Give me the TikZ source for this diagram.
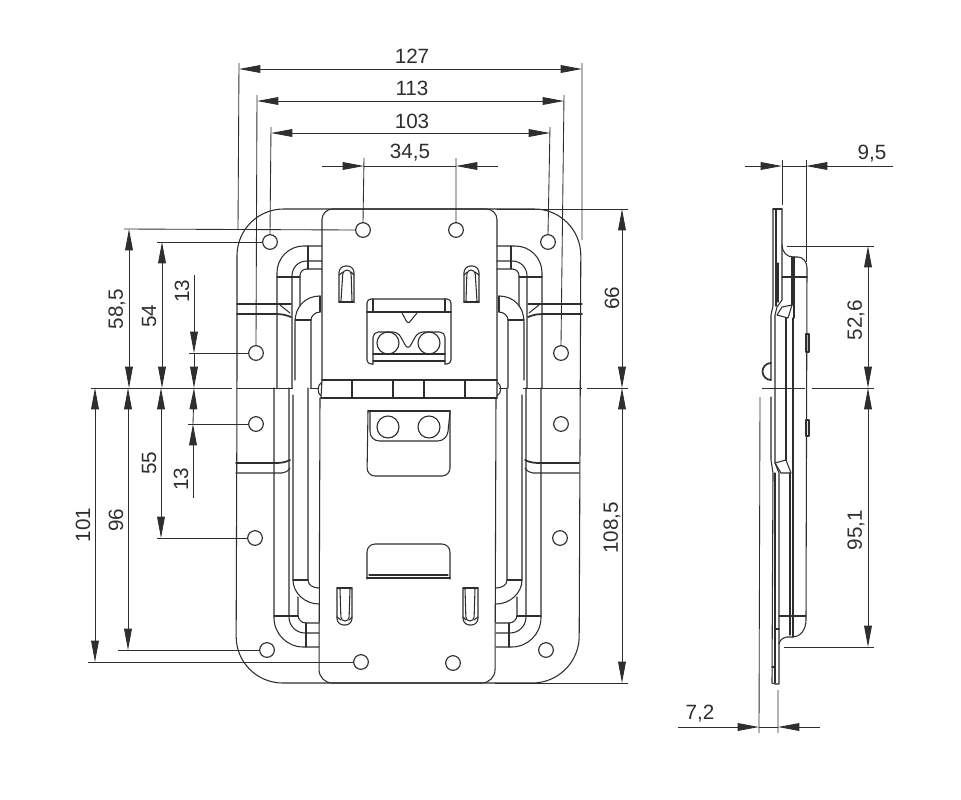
\documentclass[tikz,border=0pt]{standalone}
\usepackage{fontspec}
\setmainfont{Liberation Sans}
\usetikzlibrary{arrows.meta}
\definecolor{ink}{HTML}{2E2E2E}
\tikzset{
  part/.style={draw=ink,line width=.8pt,line cap=round,line join=round},
  heavy/.style={draw=ink,line width=1.3pt,line cap=round,line join=round},
  ext/.style={draw=ink,line width=.65pt},
  dimboth/.style={ext,{Triangle[length=16pt,width=5.8pt]}-{Triangle[length=16pt,width=5.8pt]}},
  dimin/.style={ext,-{Triangle[length=16pt,width=5.8pt]}},
  hole/.style={circle,draw=ink,line width=.85pt,minimum size=11pt,inner sep=0pt},
  pin/.style={circle,draw=ink,line width=.85pt,minimum size=16.5pt,inner sep=0pt},
  lbl/.style={text=ink,font=\fontsize{15.5}{17}\selectfont,inner sep=0pt},
  vlbl/.style={lbl,rotate=90}
}
% left half of the upper part; mirrored for the right side
\newcommand{\upperside}{%
  \draw[part,rounded corners=20pt] (322,246)--(277,246)--(277,388);
  \draw[part,rounded corners=11pt] (322,261)--(292,261)--(292,388);
  \draw[part,rounded corners=5pt] (322,269)--(300,269)--(300,306);
  \draw[part] (277,277)--(300,277);
  \draw[part] (308,246)--(308,269);
  \draw[part] (320,296) .. controls (305,296) and (295,307) .. (295,322)--(295,380);
  \draw[part] (320,312) .. controls (315,312) and (311,316) .. (311,320)--(311,388);
  \draw[part] (295,320)--(311,320);
  \draw[part] (320,296)--(320,312);
  \draw[part] (237,304)--(291,304);
  \draw[heavy] (237,314)--(276,314) .. controls (282,314) and (286,315) .. (291,317);
  \draw[part] (280,305)--(290,313);
}
% left half of the lower part; mirrored for the right side
\newcommand{\lowerside}{%
  \draw[part,rounded corners=22pt] (274,388)--(274,647)--(319,647);
  \draw[part,rounded corners=12pt] (289,388)--(289,633)--(319,633);
  \draw[part,rounded corners=6pt] (298,597)--(298,623)--(319,623);
  \draw[part] (274,616)--(298,616);
  \draw[part] (306,623)--(306,647);
  \draw[part] (293,395)--(293,580) .. controls (293,593) and (305,604) .. (319,604);
  \draw[part] (308,388)--(308,580) .. controls (308,585) and (313,588) .. (319,588);
  \draw[part] (293,580)--(308,580);
  \draw[heavy] (236,463)--(276,463) .. controls (282,463) and (286,462) .. (290,460);
  \draw[part] (236,473)--(282,473) .. controls (285,473) and (288,471) .. (290,468);
}
\newcommand{\upperslot}{%
  \draw[part,rounded corners=5pt] (339,302)--(339,266)--(354,266)--(354,302);
  \draw[heavy] (339,302)--(354,302);
  \draw[part,rounded corners=3pt] (341,301)--(343,270)--(351,270)--(352,301);
  \draw[part] (339,275)--(343,272) (354,275)--(351,272);
}
\newcommand{\lowerslot}{%
  \draw[part,rounded corners=5pt] (337,588)--(337,625)--(352,625)--(352,588);
  \draw[part] (337,588)--(352,588);
  \draw[part,rounded corners=3pt] (340,589)--(341,621)--(349,621)--(350,589);
  \draw[part] (337,617)--(341,620) (352,617)--(349,620);
}
\begin{document}
\begin{tikzpicture}[x=.75pt,y=-.75pt]
\useasboundingbox (0,0) rectangle (961,800);
% base plate
\draw[part,rounded corners=35pt] (237,388)--(237,209)--(581,209)--(579,683)--(236,683)--cycle;
% recesses and ribs
\upperside
\begin{scope}[shift={(819,0)},xscale=-1] \upperside \end{scope}
\lowerside
\begin{scope}[shift={(815,0)},xscale=-1] \lowerside \end{scope}
% latch plate
\draw[part,rounded corners=8pt] (322,380)--(322,209)--(497,209)--(497,380);
\draw[part,rounded corners=10pt] (320,398)--(319,683)--(495,683)--(496,398);
% hinge
\draw[heavy] (322,380)--(497,380) (321,398)--(497,398);
\draw[part] (322,380)--(321,398) (497,380)--(497,398);
\draw[part] (352,380)--(352,398) (393,380)--(393,398) (424,380)--(424,398) (465,380)--(465,398);
\draw[part] (322,382) .. controls (317,385) and (317,393) .. (321,396);
\draw[part] (497,382) .. controls (502,385) and (502,393) .. (497,396);
% slots
\upperslot
\begin{scope}[shift={(818,0)},xscale=-1] \upperslot \end{scope}
\lowerslot
\begin{scope}[shift={(815,0)},xscale=-1] \lowerslot \end{scope}
% upper window
\draw[part,rounded corners=3pt] (373,364)--(367,364)--(367,299)--(451,299)--(451,364)--(445,364);
\draw[part] (373,299)--(373,312) (445,299)--(445,312);
\draw[heavy] (367,312)--(451,312);
\draw[part,rounded corners=2pt] (402,313)--(408,324)--(417,313);
\draw[part,rounded corners=4pt] (373,364)--(373,332)--(398,332)--(408,350)--(418,332)--(445,332)--(445,364);
\draw[heavy] (373,354)--(445,354);
\draw[part] (373,361)--(445,361);
\node[pin] (p1) at (388,343) {};
\node[pin] (p2) at (429,343) {};
% middle window
\draw[part,rounded corners=6pt] (368,411)--(367,476)--(450,476)--(450,411);
\draw[heavy] (368,411)--(450,411);
\draw[part,rounded corners=7pt] (370,412)--(370,441)--(447,441)--(450,412);
\node[pin] (p3) at (388,427) {};
\node[pin] (p4) at (429,427) {};
% lower window
\draw[part,rounded corners=6pt] (367,579)--(367,544)--(450,544)--(450,579);
\draw[heavy] (367,578)--(450,578);
\draw[part] (369,575)--(448,575);
% holes
\node[hole] (h1) at (363,230) {};
\node[hole] (h2) at (456,230) {};
\node[hole] (h3) at (270,242) {};
\node[hole] (h4) at (548,242) {};
\node[hole] (h5) at (256,353) {};
\node[hole] (h6) at (561,353) {};
\node[hole] (h7) at (256,424) {};
\node[hole] (h8) at (561,424) {};
\node[hole] (h9) at (255,538) {};
\node[hole] (h10) at (560,538) {};
\node[hole] (h11) at (267,650) {};
\node[hole] (h12) at (546,650) {};
\node[hole] (h13) at (361,662) {};
\node[hole] (h14) at (453,663) {};
% centre line
\draw[ext] (91,388)--(232,388) (237,388)--(293,388) (310,388)--(319,388) (499,388)--(507,388) (523,388)--(582,388) (587,388)--(628,388);
% horizontal dimensions, top
\draw[ext] (239,63)--(238,230) (582,63)--(582,240);
\draw[ext] (257,95)--(h5.north) (564,95)--(h6.north);
\draw[ext] (271,127)--(h3.north) (550,127)--(h4.north);
\draw[ext] (364,158)--(h1.north) (456,158)--(h2.north);
\draw[dimboth] (239,69)--(582,69);
\draw[dimboth] (257,101)--(564,101);
\draw[dimboth] (271,133)--(550,133);
\draw[dimin] (322,166)--(364,166);
\draw[dimin] (498,166)--(456,166);
\draw[ext] (364,166)--(456,166);
\node[lbl] (t127) at (412,56) {127};
\node[lbl] (t113) at (412,88) {113};
\node[lbl] (t103) at (412,121) {103};
\node[lbl] (t345) at (410,153) {34,5};
% vertical dimensions, left
\draw[ext] (124,229)--(h1.west);
\draw[ext] (157,242)--(h3.west);
\draw[ext] (189,353)--(h5.west);
\draw[ext] (188,424)--(h7.west);
\draw[ext] (157,538)--(h9.west);
\draw[ext] (118,650)--(h11.west);
\draw[ext] (88,662)--(h13.west);
\draw[dimboth] (129,229)--(129,388);
\draw[dimboth] (162,242)--(162,388);
\draw[dimin] (194,275)--(194,353);
\draw[dimin] (194,353)--(194,388);
\draw[dimin] (193,498)--(193,424);
\draw[dimin] (193,424)--(194,388);
\draw[dimboth] (128,388)--(128,650);
\draw[dimboth] (161,388)--(161,538);
\draw[dimboth] (95,388)--(95,662);
\node[vlbl] (t585) at (117,309) {58,5};
\node[vlbl] (t54) at (149,316) {54};
\node[vlbl] (t13a) at (182,291) {13};
\node[vlbl] (t55) at (149,463) {55};
\node[vlbl] (t13b) at (181,479) {13};
\node[vlbl] (t96) at (116,520) {96};
\node[vlbl] (t101) at (83,525) {101};
% vertical dimensions, right
\draw[ext] (497,209)--(628,209) (495,683)--(628,683);
\draw[dimboth] (622,209)--(622,388);
\draw[dimboth] (622,388)--(622,683);
\node[vlbl] (t66) at (612,298) {66};
\node[vlbl] (t1085) at (612,528) {108,5};
% side view
\draw[part] (773,209)--(782,209);
\draw[part] (773,209)--(773,306)--(771,315)--(771,380) (771,397)--(771,460)--(773,473)--(772,683)--(775,684)--(779,684)--(779,643);
\draw[part] (776,209)--(776,306);
\draw[part] (778,263)--(778,302);
\draw[part] (782,209)--(782,245) .. controls (782,252) and (787,257) .. (793,257)--(798,257) .. controls (803,257) and (807,262) .. (807,268)--(806,620) .. controls (806,630) and (800,637) .. (793,637)--(787,637) .. controls (782,638) and (780,640) .. (779,644);
\draw[part] (782,245)--(782,300)--(777,307)--(775,315)--(775,463)--(779,473)--(779,643);
\draw[part] (775,473)--(775,683);
\draw[part] (792,257)--(792,305) (794,257)--(794,318);
\draw[part] (782,277)--(807,277);
\draw[part] (782,307)--(792,305)--(788,318)--(777,315)--cycle;
\draw[part] (786,318)--(786,460);
\draw[part] (793,318)--(793,473);
\draw[part] (775,463)--(786,460)--(791,473)--(781,473)--cycle;
\draw[part] (790,473)--(790,635) (793,473)--(793,637);
\draw[part] (779,616)--(806,616);
\draw[part] (775,629)--(779,629) (772,667)--(775,667);
\draw[heavy] (771,380) arc[start angle=90,delta angle=180,radius=8.5];
\draw[part] (806,334) rectangle (809,352);
\draw[part] (806,420) rectangle (809,436);
% side view dimensions
\draw[ext] (782,160)--(782,205) (806,160)--(806,262);
\draw[dimin] (745,166)--(782,166);
\draw[dimin] (893,166)--(806,166);
\draw[ext] (782,166)--(806,166);
\node[lbl] (t95) at (872,154) {9,5};
\draw[ext] (787,246)--(874,246) (784,647)--(874,647);
\draw[ext] (762,388)--(805,388) (812,388)--(874,388);
\draw[dimboth] (868,246)--(868,388);
\draw[dimboth] (868,388)--(868,647);
\node[vlbl] (t526) at (856,320) {52,6};
\node[vlbl] (t951) at (856,530) {95,1};
\draw[ext] (760,397)--(759,733) (778,690)--(778,733);
\draw[dimin] (678,727)--(759,727);
\draw[dimin] (820,727)--(778,727);
\draw[ext] (759,727)--(778,727);
\node[lbl] (t72) at (700,714) {7,2};
\end{tikzpicture}
\end{document}
